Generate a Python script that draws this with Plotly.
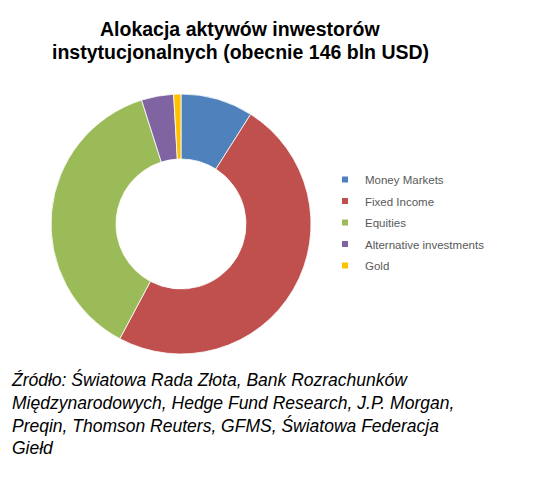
import plotly.graph_objects as go

# dane (udział w %)
labels = ["Money Markets", "Fixed Income", "Equities", "Alternative investments", "Gold"]
values = [9.0, 48.8, 37.3, 4.0, 0.9]
colors = ["#4F81BD", "#C0504D", "#9BBB59", "#8064A2", "#FFC000"]

title_lines = ["Alokacja aktywów inwestorów", "instytucjonalnych (obecnie 146 bln USD)"]
source_lines = [
    "Źródło: Światowa Rada Złota, Bank Rozrachunków",
    "Międzynarodowych, Hedge Fund Research, J.P. Morgan,",
    "Preqin, Thomson Reuters, GFMS, Światowa Federacja",
    "Giełd",
]

W, H = 560, 488
# strona ma 8px marginesu body, więc wszystko przesunięte o -8
cx, cy, r = 173, 216, 130

fig = go.Figure()

# donut
fig.add_trace(go.Pie(
    labels=labels,
    values=values,
    marker=dict(colors=colors, line=dict(color="white", width=0.8)),
    hole=0.5,
    sort=False,
    direction="clockwise",
    rotation=0,
    textinfo="none",
    showlegend=False,
    domain=dict(x=[(cx - r) / W, (cx + r) / W],
                y=[(H - cy - r) / H, (H - cy + r) / H]),
))

# legenda - małe kwadraty
for lab, col in zip(labels, colors):
    fig.add_trace(go.Scatter(
        x=[None], y=[None], mode="markers", name=lab, legendgroup=lab,
        marker=dict(symbol="square", size=6, color=col),
    ))

# tytuł - dwie linie osobno, żeby trzymać odstęp
for i, line in enumerate(title_lines):
    fig.add_annotation(
        text="<b>" + line + "</b>", xref="paper", yref="paper",
        x=232 / W, y=1 - (21 + 23 * i) / H,
        xanchor="center", yanchor="middle", showarrow=False,
        font=dict(family="Arial, Liberation Sans", size=19.5, color="black"),
    )

fig.add_annotation(
    text="<i>" + "<br>".join(source_lines) + "</i>", xref="paper", yref="paper",
    x=1 / W, y=1 - 359 / H, xanchor="left", yanchor="top", align="left",
    showarrow=False,
    font=dict(family="Arial, Liberation Sans", size=17.5, color="black"),
)

fig.update_layout(
    width=W, height=H,
    margin=dict(l=0, r=0, t=0, b=0),
    paper_bgcolor="white", plot_bgcolor="white",
    xaxis=dict(visible=False), yaxis=dict(visible=False),
    legend=dict(
        x=(357 - 40) / W, y=1 - 157 / H, xanchor="left", yanchor="top",
        tracegroupgap=2.5, bgcolor="rgba(0,0,0,0)",
        font=dict(family="Arial, Liberation Sans", size=11.5, color="#595959"),
    ),
)

fig.write_html("out.html")
